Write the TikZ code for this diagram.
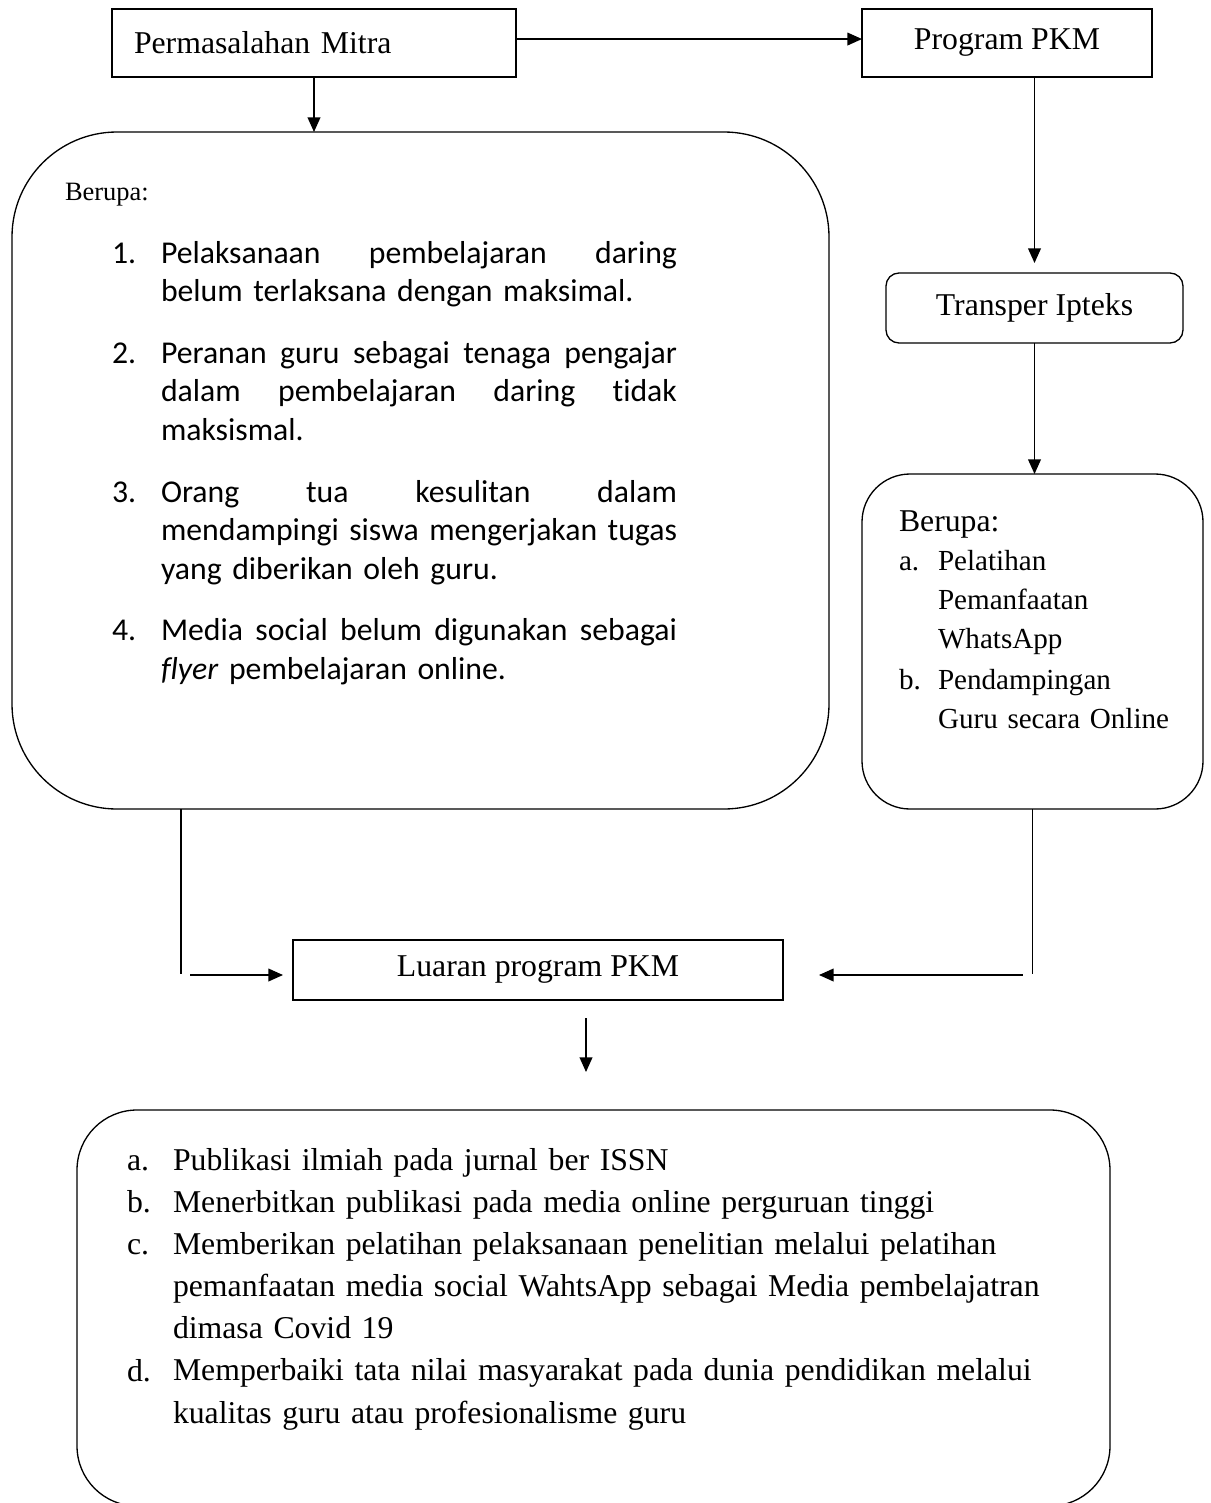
\documentclass[tikz,border=0pt]{standalone}
\usepackage{fontspec}
\setmainfont{Liberation Serif}
\newfontfamily\calibri[Ligatures=NoCommon]{Carlito}
\usetikzlibrary{arrows.meta,calc}
\newlength\listw \setlength\listw{195.05pt}
\newcommand\jline[1]{\leavevmode\hbox to \listw{#1}}
\begin{document}
\begin{tikzpicture}[x=0.378pt,y=-0.378pt,
  box/.style={draw,line width=0.5pt,rectangle,inner sep=0pt,outer sep=0pt,font=\fontsize{12}{14}\selectfont},
  conn/.style={line width=0.5pt},
  arr/.style={conn,-{Triangle[length=5.5pt,width=4.8pt]}},
  txt/.style={anchor=base west,inner sep=0pt,outer sep=0pt,align=left},
  tnr/.style={font=\fontsize{12}{#1}\selectfont},
  tns/.style={font=\fontsize{11}{#1}\selectfont},
  cal/.style={font=\calibri\fontsize{12}{14.74}\selectfont},
]
\useasboundingbox (0,0) rectangle (1210,1503);

% boxes
\node[box,minimum width=152.71pt,minimum height=25.70pt,text width=136.08pt,inner xsep=8.32pt,align=left] (A) at (314,43) {Permasalahan Mitra};
\node[box,minimum width=109.62pt,minimum height=25.70pt] (B) at (1007,43) {Program PKM};
\node[box,rounded corners=39.69pt,minimum width=308.83pt,minimum height=255.91pt] (C) at (420.5,470.5) {};
\node[box,rounded corners=4.91pt,minimum width=112.27pt,minimum height=26.46pt] (D) at (1034.5,308) {Transper Ipteks};
\node[box,rounded corners=18.14pt,minimum width=128.90pt,minimum height=126.63pt] (E) at (1032.5,641.5) {};
\node[box,minimum width=185.22pt,minimum height=22.68pt] (F) at (538,970) {Luaran program PKM};
\node[box,rounded corners=22.68pt,minimum width=390.47pt,minimum height=149.69pt] (G) at (593.5,1308) {};

% left box text
\node[txt,font=\fontsize{10}{12}\selectfont] (Cb) at (65,200) {Berupa:};
\node[txt,cal] (n1) at (112,263) {1.};
\node[txt,cal,text width=\listw] (i1) at (161,263) {\jline{Pelaksanaan\hfill pembelajaran\hfill daring}\\belum terlaksana dengan maksimal.};
\node[txt,cal] (n2) at (112,363) {2.};
\node[txt,cal,text width=\listw] (i2) at (161,363) {\jline{Peranan\hfill guru\hfill sebagai\hfill tenaga\hfill pengajar}\\\jline{dalam\hfill pembelajaran\hfill daring\hfill tidak}\\maksismal.};
\node[txt,cal] (n3) at (112,502) {3.};
\node[txt,cal,text width=\listw] (i3) at (161,502) {\jline{Orang\hfill tua\hfill kesulitan\hfill dalam}\\\jline{mendampingi\hfill siswa\hfill mengerjakan\hfill tugas}\\yang diberikan oleh guru.};
\node[txt,cal] (n4) at (112,640) {4.};
\node[txt,cal,text width=\listw] (i4) at (161,640) {\jline{Media\hfill social\hfill belum\hfill digunakan\hfill sebagai}\\\textit{flyer} pembelajaran online.};

% right box text
\node[txt,tnr=14.9] (Eb) at (899,531) {Berupa:};
\node[txt,tns=14.9] (Ea) at (899,570) {a.};
\node[txt,tns=14.9,text width=100pt] (Eat) at (938,570) {Pelatihan\\Pemanfaatan\\WhatsApp};
\node[txt,tns=14.9] (Ebl) at (899,689) {b.};
\node[txt,tns=14.9,text width=100pt] (Ebt) at (938,689) {Pendampingan\\Guru secara Online};

% bottom box text
\node[txt,tnr=15.95] (Ga) at (127,1170) {a.};
\node[txt,tnr=15.95] (Gb) at (127,1212) {b.};
\node[txt,tnr=15.95] (Gc) at (127,1254) {c.};
\node[txt,tnr=15.95] (Gd) at (127,1381) {d.};
\node[txt,tnr=15.95,text width=370pt] (Gt) at (173,1170) {Publikasi ilmiah pada jurnal ber ISSN\\
Menerbitkan publikasi pada media online perguruan tinggi\\
Memberikan pelatihan pelaksanaan penelitian melalui pelatihan\\
pemanfaatan media social WahtsApp sebagai Media pembelajatran\\
dimasa Covid 19\\
Memperbaiki tata nilai masyarakat pada dunia pendidikan melalui\\
kualitas guru atau profesionalisme guru};

% connectors
\draw[arr] ([yshift=1.5pt]A.east) -- ([yshift=1.5pt]B.west);
\draw[arr] (A.south) -- (A.south |- C.north);
\draw[arr] (D.north |- B.south) -- ($(D.north)+(0,-10)$);
\draw[arr] (D.south) -- (D.south |- E.north);
\coordinate (cl) at ($(C.south west)+(169,0)$);
\coordinate (cy) at ($(F.west)+(-112,4)$);
\draw[conn] (cl) -- (cl |- cy);
\draw[arr] ($(F.west)+(-103,5)$) -- ($(F.west)+(-10,5)$);
\draw[conn] (E.south) -- (E.south |- cy);
\draw[arr] ($(E.south |- F.east)+(-10,5)$) -- ($(F.east)+(36,5)$);
\draw[arr] ($(F.south)+(48,18)$) -- ($(G.north)+(-7.5,-38)$);
\end{tikzpicture}
\end{document}
